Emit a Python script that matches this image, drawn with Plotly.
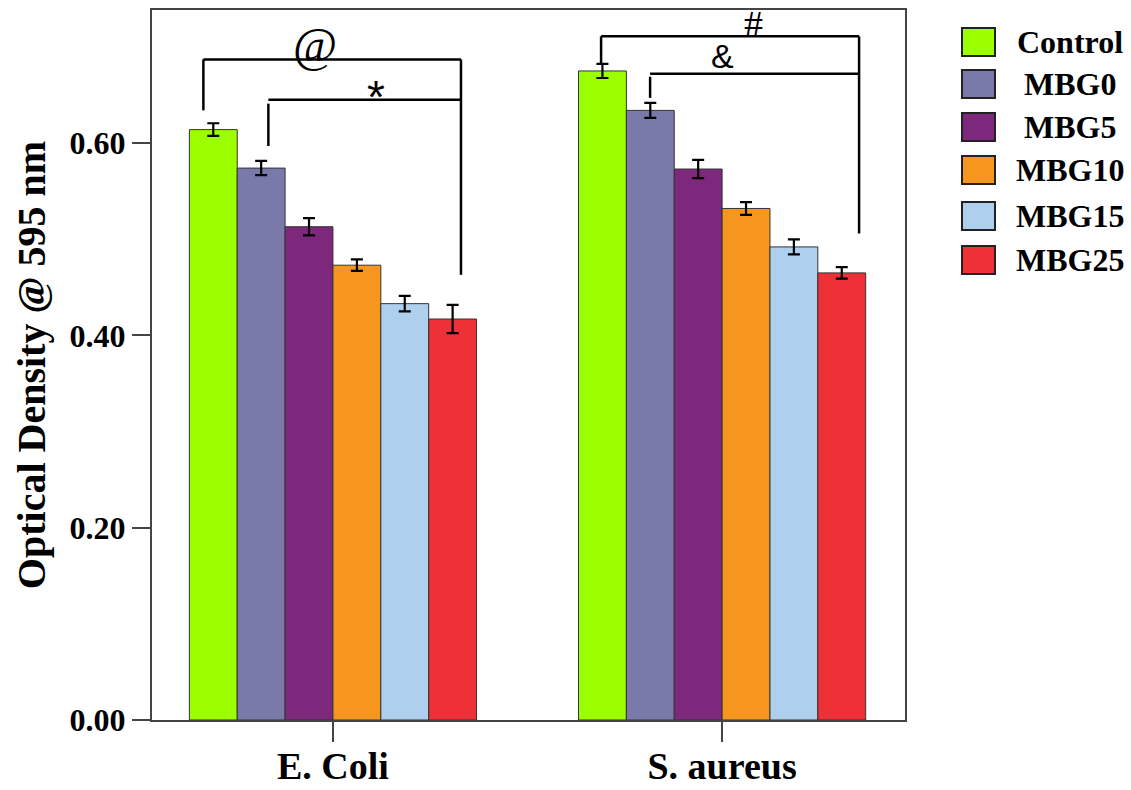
import plotly.graph_objects as go

categories = ["E. Coli", "S. aureus"]
series_names = ["Control", "MBG0", "MBG5", "MBG10", "MBG15", "MBG25"]
control = [0.614, 0.675]
mbg0 = [0.574, 0.634]
mbg5 = [0.513, 0.573]
mbg10 = [0.473, 0.532]
mbg15 = [0.433, 0.492]
mbg25 = [0.417, 0.465]
err_control = [0.0066, 0.0073]
err_mbg0 = [0.0074, 0.0078]
err_mbg5 = [0.0090, 0.0095]
err_mbg10 = [0.0060, 0.0066]
err_mbg15 = [0.0080, 0.0078]
err_mbg25 = [0.0147, 0.0060]
y_ticks = [0.0, 0.2, 0.4, 0.6]

values = [control, mbg0, mbg5, mbg10, mbg15, mbg25]
errors = [err_control, err_mbg0, err_mbg5, err_mbg10, err_mbg15, err_mbg25]
colors = ["#9BFF00", "#7A7AAA", "#7D287C", "#F7961F", "#AED0EE", "#EE3136"]

SERIF = "Liberation Serif, Times New Roman, serif"
SANS = "Liberation Sans, Arial, sans-serif"

fig = go.Figure()
for name, v, e, c in zip(series_names, values, errors, colors):
    fig.add_trace(go.Bar(
        name=name, x=categories, y=v,
        marker=dict(color=c, line=dict(color="#333333", width=1)),
        error_y=dict(type="data", array=e, visible=True, color="black", thickness=2.2, width=6),
        showlegend=False,
    ))

# significance brackets (annotation overlays)
lw = dict(color="black", width=2.5)
brackets = [
    # (x0, x1, ytop, left_bottom, right_bottom)
    (-0.333, 0.329, 0.687, 0.634, 0.463),
    (0.689, 1.352, 0.711, 0.683, 0.506),
]
for x0, x1, yt, lb, rb in brackets:
    fig.add_shape(type="line", x0=x0, x1=x1, y0=yt, y1=yt, xref="x", yref="y", line=lw)
    fig.add_shape(type="line", x0=x0, x1=x0, y0=yt, y1=lb, xref="x", yref="y", line=lw)
    fig.add_shape(type="line", x0=x1, x1=x1, y0=yt, y1=rb, xref="x", yref="y", line=lw)
inner = [
    # (x0, x1, y, leg_top, leg_bottom)
    (-0.166, 0.329, 0.645, 0.641, 0.597),
    (0.815, 1.352, 0.672, 0.669, 0.647),
]
for x0, x1, y, lt, lb in inner:
    fig.add_shape(type="line", x0=x0, x1=x1, y0=y, y1=y, xref="x", yref="y", line=lw)
    fig.add_shape(type="line", x0=x0, x1=x0, y0=lt, y1=lb, xref="x", yref="y", line=lw)

marks = [
    ("@", -0.046, 0.703, SERIF, 48),
    ("*", 0.111, 0.648, SANS, 46),
    ("#", 1.080, 0.724, SERIF, 38),
    ("&", 1.000, 0.691, SANS, 34),
]
for t, x, y, fam, sz in marks:
    fig.add_annotation(text=t, x=x, y=y, xref="x", yref="y", showarrow=False,
                       font=dict(family=fam, size=sz, color="black"))

# custom legend
L, T, W, H = 152, 10, 753, 710
def px(xp):
    return (xp - L) / W
def py(yp):
    return (T + H - yp) / H
row_y = [42, 84, 127, 170, 216, 260]
for name, c, yc in zip(series_names, colors, row_y):
    fig.add_shape(type="rect", xref="paper", yref="paper",
                  x0=px(962), x1=px(995), y0=py(yc + 14), y1=py(yc - 14),
                  fillcolor=c, line=dict(color="#222222", width=2))
    fig.add_annotation(text="<b>%s</b>" % name, xref="paper", yref="paper",
                       x=px(1070), y=py(yc), showarrow=False, xanchor="center", yanchor="middle",
                       font=dict(family=SERIF, size=32, color="black"))

fig.update_layout(
    width=1131, height=790,
    margin=dict(l=L, r=1131 - 905, t=T, b=790 - 720, autoexpand=False),
    plot_bgcolor="white", paper_bgcolor="white",
    barmode="group", bargap=0.262, bargroupgap=0,
    showlegend=False,
    font=dict(family=SERIF, color="black"),
)
fig.update_xaxes(
    range=[-0.465, 1.47], showgrid=False, automargin=False,
    showline=True, linecolor="#444444", linewidth=2, mirror=True,
    ticks="outside", ticklen=20, tickwidth=1.5, tickcolor="#444444",
    ticklabelstandoff=-9,
    tickfont=dict(family=SERIF, size=38, color="black", weight="bold"),
)
fig.update_yaxes(
    range=[0, 0.7384], showgrid=False, zeroline=False, automargin=False,
    showline=True, linecolor="#444444", linewidth=2, mirror=True,
    ticks="outside", ticklen=18, tickwidth=1.5, tickcolor="#444444",
    tickvals=y_ticks, tickformat=".2f",
    tickfont=dict(family=SERIF, size=32, color="black", weight="bold"),
    title=dict(text="Optical Density @ 595 nm", standoff=12,
               font=dict(family=SERIF, size=40, color="black", weight="bold")),
)

fig.write_html("out.html", config={"displayModeBar": False},
               post_script="document.body.style.margin='0';")
